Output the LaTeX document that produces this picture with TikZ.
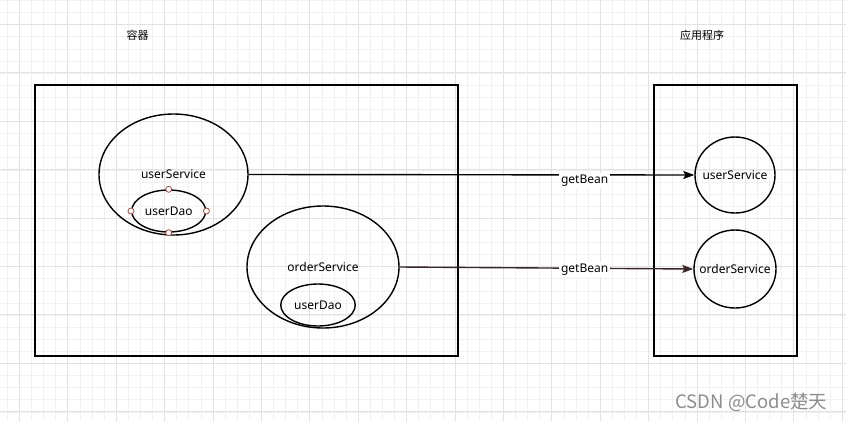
\documentclass[tikz,border=0pt]{standalone}
\usepackage{fontspec}
\setmainfont{Noto Sans}
\newfontfamily\cjk{Noto Sans CJK SC}
\usetikzlibrary{arrows.meta,positioning,shapes.geometric}
\definecolor{gridminor}{RGB}{241,241,241}
\definecolor{gridmajor}{RGB}{226,226,226}
\definecolor{knobred}{RGB}{176,70,58}
\definecolor{linkdark}{RGB}{58,36,36}
\definecolor{wmark}{RGB}{140,140,140}

\begin{document}
\begin{tikzpicture}[x=1pt,y=-1pt,
  every node/.style={font=\fontsize{12}{14}\selectfont},
  frame/.style={draw,line width=1.4pt,inner sep=0pt},
  bean/.style={ellipse,draw,line width=1.4pt,inner sep=0pt},
  tight/.style={inner xsep=-10pt},
  title/.style={font=\cjk\fontsize{11}{13}\selectfont},
  lbl/.style={fill=white,inner sep=2pt},
  arrow/.style={-{Stealth[length=11pt,width=8pt,inset=2pt]},line width=1.4pt},
  knob/.style={circle,draw=knobred,fill=white,line width=0.8pt,
               minimum size=6pt,inner sep=0pt},
  ]

  \useasboundingbox (0,0) rectangle (846,421);

  %─── Grid background ───────────────────────────────────────────────────────
  \foreach \i in {0,...,69}
    \draw[gridminor,line width=0.8pt] (7.3+12.1*\i,0) -- ++(0,421);
  \foreach \i in {0,...,34}
    \draw[gridminor,line width=0.8pt] (0,0.5+12.1*\i) -- ++(846,0);
  \foreach \i in {0,...,17}
    \draw[gridmajor,line width=0.8pt] (19.3+48.4*\i,0) -- ++(0,421);
  \foreach \i in {0,...,8}
    \draw[gridmajor,line width=0.8pt] (0,24.3+48.4*\i) -- ++(846,0);

  %─── Container ─────────────────────────────────────────────────────────────
  \node[title] (ctitle) at (137.5,35) {容器};
  \node[frame,minimum width=423pt,minimum height=271pt]
    (box) at (246.5,220.5) {};

  \node[bean,minimum width=149pt,minimum height=121pt]
    (usvc) at (173.5,174.5) {userService};
  \node[bean,minimum width=74pt,minimum height=42pt]
    (udao) at (168.7,211) {userDao};
  \foreach \a in {north,south,east,west}
    \node[knob] (knob-\a) at (udao.\a) {};

  \node[bean,minimum width=152pt,minimum height=122pt]
    (osvc) at (323,267) {orderService};
  \node[bean,minimum width=74.5pt,minimum height=42pt]
    (odao) at (318,305) {userDao};

  %─── Application ───────────────────────────────────────────────────────────
  \node[title] (atitle) at (702,35.5) {应用程序};
  \node[frame,minimum width=143pt,minimum height=271pt]
    (app) at (725.5,220.5) {};

  \node[bean,tight,minimum width=80pt,minimum height=76pt]
    (ausvc) at (735,175) {userService};
  \node[bean,tight,minimum width=82pt,minimum height=78pt]
    (aosvc) at (735,269) {orderService};

  %─── getBean arrows ────────────────────────────────────────────────────────
  \draw[arrow]
    (usvc.east) -- node[pos=0.754,yshift=-6pt,lbl] {getBean}
    (ausvc.west);

  \draw[arrow,linkdark]
    (osvc.east) -- node[pos=0.63,yshift=-1pt,lbl,text=black] {getBean}
    (aosvc.west);

  %─── Watermark ─────────────────────────────────────────────────────────────
  \node[font=\cjk\fontsize{18.5}{21}\selectfont,text=wmark]
    (mark) at (751.5,402) {CSDN @Code楚天};

\end{tikzpicture}
\end{document}
